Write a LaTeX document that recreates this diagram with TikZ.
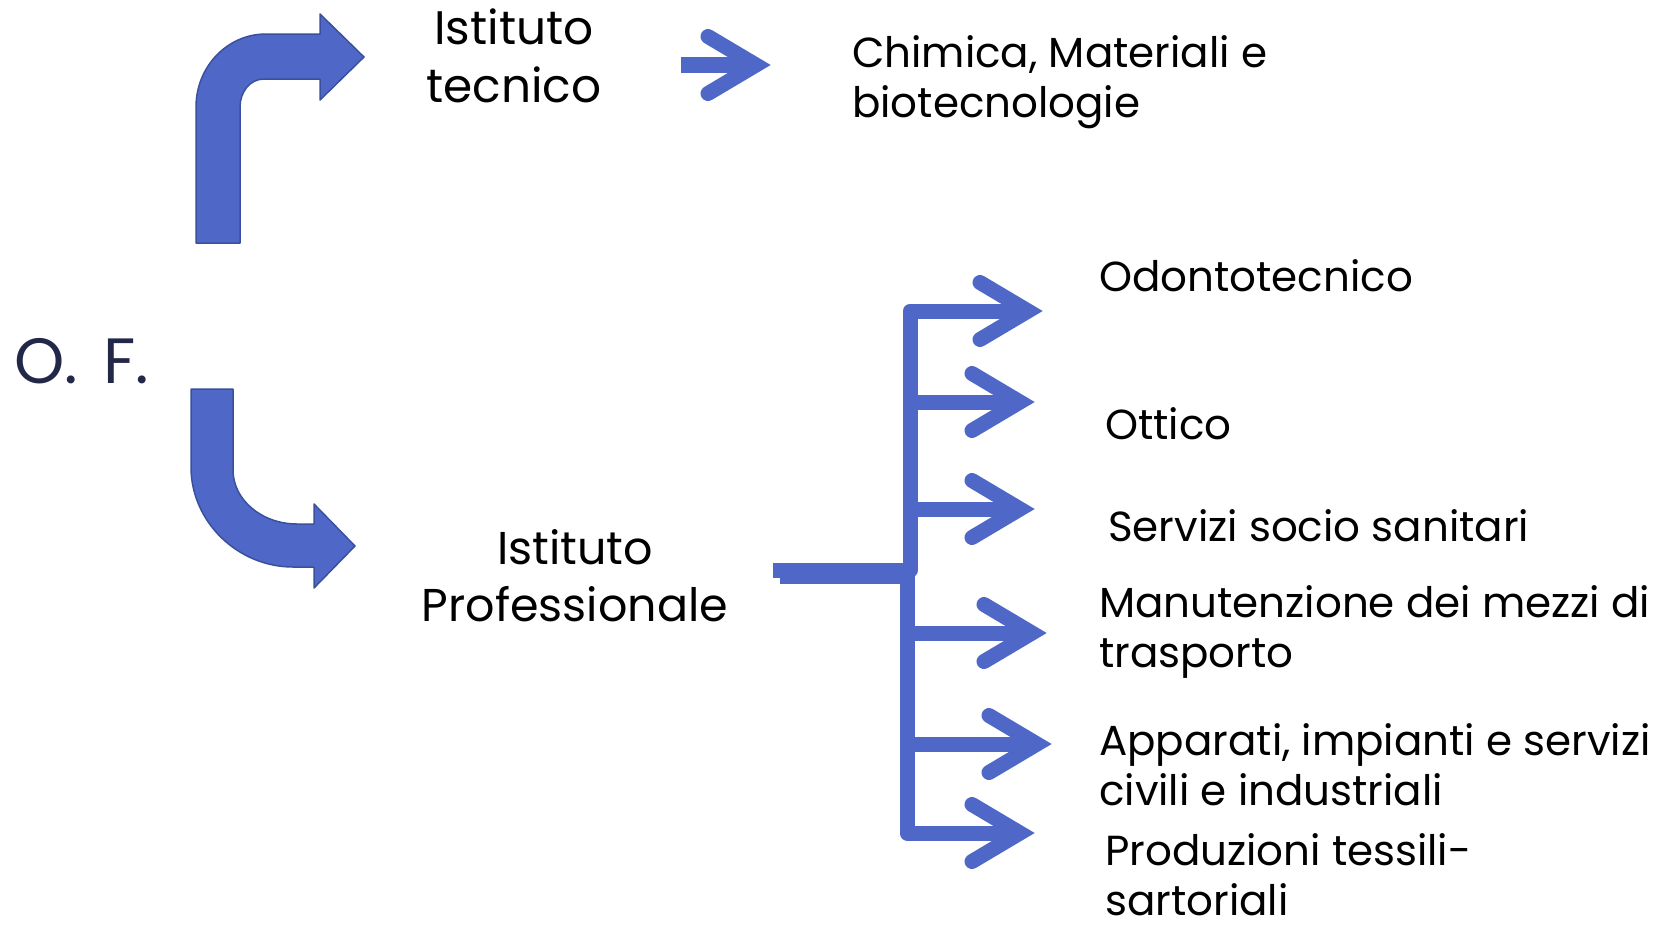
\documentclass[tikz,border=0pt]{standalone}
\usepackage{fontspec}
\setmainfont{Poppins}
\usetikzlibrary{calc}
\definecolor{arrowblue}{RGB}{79,104,199}
\definecolor{arrowedge}{RGB}{58,80,158}
\definecolor{ofnavy}{RGB}{36,40,72}
\tikzset{
  chev/.pic={\draw[chevron] (-48,-28.5) -- (0,0) -- (-48,28.5);},
}
\begin{document}
\begin{tikzpicture}[x=1pt,y=-1pt,
  lbl/.style={anchor=base west, inner sep=0pt, font=\fontsize{42}{50}\selectfont, align=left},
  inst/.style={anchor=base, inner sep=0pt, font=\fontsize{47}{58}\selectfont, align=center},
  bentarrow/.style={fill=arrowblue, draw=arrowedge, line width=1.5pt, line join=round},
  branchline/.style={draw=arrowblue, line width=15pt, line join=round},
  chevron/.style={draw=arrowblue, line width=15pt, line cap=round, line join=miter},
]
\useasboundingbox (0,0) rectangle (1663,927);
\fill[white] (0,0) rectangle (1663,927);

% texts (multi-line nodes are anchored at the baseline of their last line)
\node[anchor=base west, inner sep=0pt, font=\fontsize{64}{70}\selectfont, text=ofnavy] (of) at (14,383) {O. \hspace{8pt}F.};
\node[inst] (tec) at (514,102) {Istituto\\tecnico};
\node[inst, font=\fontsize{46}{57}\selectfont] (prof) at (575,621) {Istituto\\Professionale};
\node[lbl] (chim) at (852,117) {Chimica, Materiali e\\biotecnologie};
\node[lbl] (odo) at (1099,291) {Odontotecnico};
\node[lbl] (ott) at (1105,439) {Ottico};
\node[lbl] (ser) at (1108,541) {Servizi socio sanitari};
\node[lbl] (man) at (1099,667) {Manutenzione dei mezzi di\\trasporto};
\node[lbl] (app) at (1099,805) {Apparati, impianti e servizi\\civili e industriali};
\node[lbl] (pro) at (1105,915) {Produzioni tessili-\\sartoriali};

% bent arrow up to Istituto tecnico
\path[bentarrow] (196,243) -- (196,107) .. controls (196,67) and (227,34) .. (266,34)
  -- (320,34) -- (320,14) -- (364,57) -- (320,100) -- (320,79) -- (264,79)
  .. controls (250,79) and (240,92) .. (240,107) -- (240,243) -- cycle;

% bent arrow down to Istituto Professionale
\path[bentarrow] (191,389) -- (233,389) -- (233,470) .. controls (233,500) and (262,524) .. (297,524)
  -- (314,524) -- (314,504) -- (355,546) -- (314,588) -- (314,567) -- (293,567)
  .. controls (238,567) and (191,522) .. (191,467) -- cycle;

% arrow Istituto tecnico -> Chimica
\coordinate (tA) at (681,65);
\coordinate (tB) at (756,65);
\draw[draw=arrowblue, line width=16pt] (tA) -- ($(tB)+(-4,0)$);
\pic at (tB) {chev};

% tree
\coordinate (trunkA) at (773,570);
\coordinate (trunkB) at (780,576);
\coordinate (b1) at (1028,311);
\coordinate (b2) at (1020,402);
\coordinate (b3) at (1020,509);
\coordinate (b4) at (1032,633);
\coordinate (b5) at (1037,744);
\coordinate (b6) at (1020,833);

\draw[branchline] (trunkA) -- (910,570) -- (910,311) -- ($(b1)+(-4,0)$);
\draw[branchline] (910,402) -- ($(b2)+(-4,0)$);
\draw[branchline] (910,509) -- ($(b3)+(-4,0)$);
\draw[branchline] (trunkB) -- (907,576) -- (907,833) -- ($(b6)+(-4,0)$);
\draw[branchline] (907,633) -- ($(b4)+(-4,0)$);
\draw[branchline] (907,744) -- ($(b5)+(-4,0)$);
\foreach \b in {b1,b2,b3,b4,b5,b6} \pic at (\b) {chev};
\end{tikzpicture}
\end{document}
